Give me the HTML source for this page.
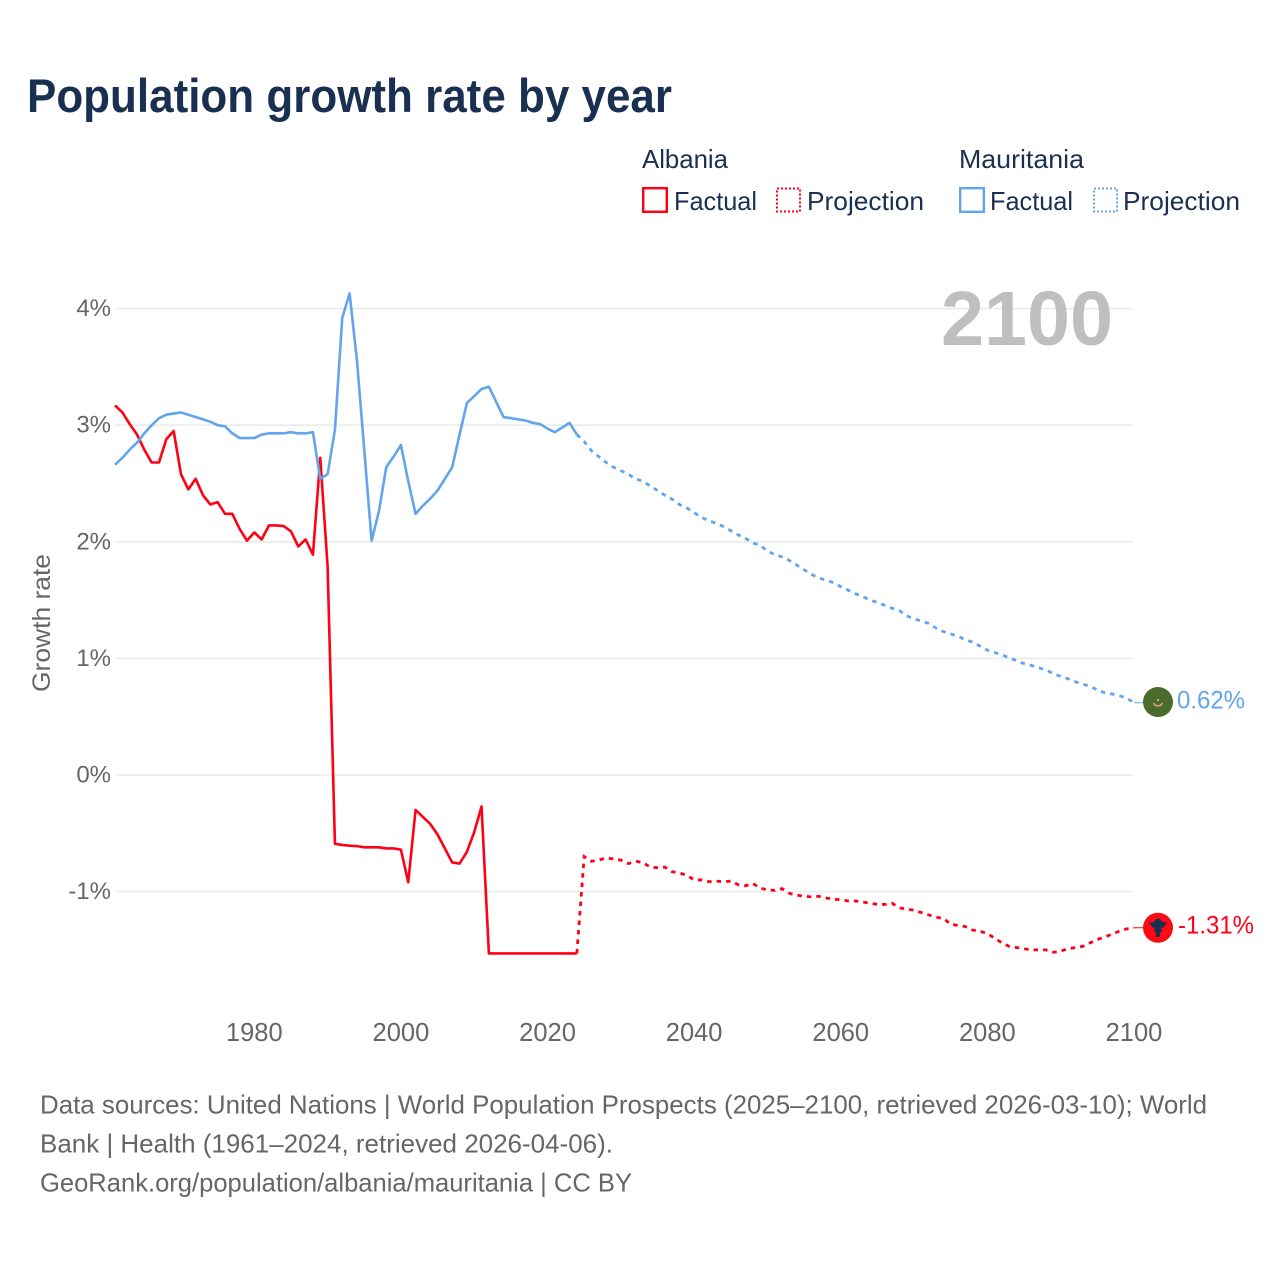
<!DOCTYPE html>
<html lang="en">
<head>
<meta charset="utf-8">
<title>Population growth rate by year</title>
<style>
  html, body { margin: 0; padding: 0; background: #ffffff; }
  svg { display: block; }
  text { font-family: "Liberation Sans", "DejaVu Sans", sans-serif; }
</style>
</head>
<body>
<svg id="chart" xmlns="http://www.w3.org/2000/svg" width="1280" height="1280" viewBox="0 0 1280 1280">
  <rect x="0" y="0" width="1280" height="1280" fill="#ffffff"/>
  <text x="27" y="112" font-size="47" font-weight="700" fill="#1a3050" textLength="645" lengthAdjust="spacingAndGlyphs">Population growth rate by year</text>

  <g>
    <text x="642" y="168" font-size="26" fill="#1a3050" textLength="86" lengthAdjust="spacingAndGlyphs">Albania</text>
    <text x="959" y="168" font-size="26" fill="#1a3050" textLength="125" lengthAdjust="spacingAndGlyphs">Mauritania</text>
    <rect x="643.2" y="188.2" width="23.6" height="23.6" fill="none" stroke="#ff0015" stroke-width="2.4"/>
    <text x="674" y="210" font-size="26" fill="#1a3050" textLength="83" lengthAdjust="spacingAndGlyphs">Factual</text>
    <rect x="777" y="188.5" width="23" height="23" fill="none" stroke="#ff0015" stroke-width="2" stroke-dasharray="2 2"/>
    <text x="807" y="210" font-size="26" fill="#1a3050" textLength="117" lengthAdjust="spacingAndGlyphs">Projection</text>
    <rect x="960.2" y="188.2" width="23.6" height="23.6" fill="none" stroke="#63a5ec" stroke-width="2.4"/>
    <text x="990" y="210" font-size="26" fill="#1a3050" textLength="83" lengthAdjust="spacingAndGlyphs">Factual</text>
    <rect x="1094" y="188.5" width="23" height="23" fill="none" stroke="#63a5ec" stroke-width="2" stroke-dasharray="2 2"/>
    <text x="1123" y="210" font-size="26" fill="#1a3050" textLength="117" lengthAdjust="spacingAndGlyphs">Projection</text>
  </g>

  <g id="grid"></g>
  <g id="y-ticks"></g>
  <g id="x-ticks"></g>

  <text transform="translate(50 623) rotate(-90)" text-anchor="middle" font-size="25" fill="#666666" textLength="138" lengthAdjust="spacingAndGlyphs">Growth rate</text>
  <text x="941" y="345" font-size="77" font-weight="700" fill="#bfbfbf" textLength="172" lengthAdjust="spacingAndGlyphs">2100</text>

  <g id="series"></g>
  <g id="markers"></g>

  <g>
    <text x="40" y="1113.5" font-size="26" fill="#666666" textLength="1167" lengthAdjust="spacingAndGlyphs">Data sources: United Nations | World Population Prospects (2025–2100, retrieved 2026-03-10); World</text>
    <text x="40" y="1152.5" font-size="26" fill="#666666" textLength="573" lengthAdjust="spacingAndGlyphs">Bank | Health (1961–2024, retrieved 2026-04-06).</text>
    <text x="40" y="1191.5" font-size="26" fill="#666666" textLength="592" lengthAdjust="spacingAndGlyphs">GeoRank.org/population/albania/mauritania | CC BY</text>
  </g>
</svg>

<script>
const factualStartYear = 1961;
const projectionStartYear = 2024;

const albaniaFactual = [
  3.17, 3.11, 3.01, 2.92, 2.79, 2.68, 2.68, 2.88, 2.95, 2.58,
  2.45, 2.54, 2.40, 2.32, 2.34, 2.24, 2.24, 2.11, 2.01, 2.08,
  2.02, 2.14, 2.14, 2.135, 2.09, 1.96, 2.02, 1.89, 2.72, 1.79,
  -0.59, -0.60, -0.606, -0.61, -0.62, -0.62, -0.62, -0.63, -0.63, -0.64,
  -0.92, -0.30, -0.36, -0.42, -0.51, -0.63, -0.75, -0.76, -0.66, -0.49,
  -0.27, -1.53, -1.53, -1.53, -1.53, -1.53, -1.53, -1.53, -1.53, -1.53,
  -1.53, -1.53, -1.53, -1.53
];

const albaniaProjection = [
  -1.53, -0.70, -0.74, -0.73, -0.71, -0.72, -0.73, -0.76, -0.74, -0.75,
  -0.79, -0.795, -0.79, -0.83, -0.84, -0.86, -0.90, -0.90, -0.915, -0.91,
  -0.915, -0.91, -0.94, -0.95, -0.93, -0.97, -0.985, -0.99, -0.975, -1.015,
  -1.03, -1.04, -1.045, -1.04, -1.055, -1.065, -1.07, -1.08, -1.08, -1.09,
  -1.10, -1.11, -1.11, -1.10, -1.14, -1.15, -1.16, -1.18, -1.20, -1.22,
  -1.23, -1.28, -1.29, -1.30, -1.33, -1.34, -1.36, -1.40, -1.44, -1.47,
  -1.48, -1.49, -1.50, -1.50, -1.50, -1.52, -1.51, -1.49, -1.48, -1.47,
  -1.44, -1.41, -1.39, -1.365, -1.34, -1.32, -1.31
];

const mauritaniaFactual = [
  2.66, 2.72, 2.79, 2.85, 2.93, 3.00, 3.06, 3.09, 3.10, 3.11,
  3.09, 3.07, 3.05, 3.03, 3.00, 2.99, 2.93, 2.89, 2.89, 2.89,
  2.92, 2.93, 2.93, 2.93, 2.94, 2.93, 2.93, 2.94, 2.54, 2.58,
  2.96, 3.92, 4.13, 3.56, 2.79, 2.01, 2.26, 2.64, 2.73, 2.83,
  2.52, 2.24, 2.31, 2.37, 2.44, 2.54, 2.64, 2.92, 3.19, 3.25,
  3.31, 3.33, 3.20, 3.07, 3.06, 3.05, 3.04, 3.02, 3.01, 2.97,
  2.94, 2.98, 3.02, 2.92
];

const mauritaniaProjection = [
  2.92, 2.86, 2.78, 2.73, 2.68, 2.64, 2.61, 2.58, 2.54, 2.52,
  2.48, 2.44, 2.40, 2.365, 2.32, 2.29, 2.25, 2.21, 2.18, 2.16,
  2.13, 2.095, 2.06, 2.03, 1.99, 1.97, 1.92, 1.89, 1.87, 1.84,
  1.80, 1.76, 1.72, 1.69, 1.67, 1.65, 1.615, 1.585, 1.555, 1.53,
  1.50, 1.48, 1.455, 1.43, 1.41, 1.365, 1.34, 1.32, 1.30, 1.26,
  1.23, 1.21, 1.19, 1.16, 1.14, 1.105, 1.07, 1.05, 1.03, 1.005,
  0.98, 0.955, 0.94, 0.92, 0.90, 0.87, 0.845, 0.825, 0.80, 0.78,
  0.76, 0.73, 0.705, 0.695, 0.68, 0.66, 0.62
];

const yTickValues = [4, 3, 2, 1, 0, -1];
const yTickLabels = ["4%", "3%", "2%", "1%", "0%", "-1%"];
const xTickYears = [1980, 2000, 2020, 2040, 2060, 2080, 2100];
const albaniaEndLabel = "-1.31%";
const mauritaniaEndLabel = "0.62%";

const NS = "http://www.w3.org/2000/svg";
const RED = "#ff0015";
const BLUE = "#63a5ec";
const PLOT_LEFT = 115;
const PLOT_RIGHT = 1133.5;
const MARKER_X = 1158;

function xScale(year) {
  return 115 + (year - 1961) * (1134 - 115) / 139;
}
function yScale(value) {
  return 775 - 116.6 * value;
}
function make(tag, attrs, parent) {
  const el = document.createElementNS(NS, tag);
  Object.keys(attrs).forEach(function (k) { el.setAttribute(k, attrs[k]); });
  parent.appendChild(el);
  return el;
}
function linePath(values, startYear) {
  return values.map(function (v, i) {
    return (i ? "L" : "M") + xScale(startYear + i).toFixed(2) + " " + yScale(v).toFixed(2);
  }).join(" ");
}

const gridGroup = document.getElementById("grid");
const yTickGroup = document.getElementById("y-ticks");
yTickValues.forEach(function (v, i) {
  const line = make("line", { x1: PLOT_LEFT, x2: PLOT_RIGHT, y1: yScale(v), y2: yScale(v), stroke: "#ebebeb", "stroke-width": 1.6 }, gridGroup);
  
  
  const label = make("text", { x: 111, y: yScale(v) + 7.5, "text-anchor": "end", "font-size": 24, fill: "#666666" }, yTickGroup);
  
  
  label.textContent = yTickLabels[i];
});

const xTickGroup = document.getElementById("x-ticks");
xTickYears.forEach(function (year) {
  const label = make("text", { x: xScale(year), y: 1041, "text-anchor": "middle", "font-size": 25.5, fill: "#666666" }, xTickGroup);
  
  
  label.textContent = String(year);
});

const seriesGroup = document.getElementById("series");

const albaniaSolid = make("path", { d: linePath(albaniaFactual, factualStartYear), fill: "none", stroke: RED, "stroke-width": 2.6, "stroke-linejoin": "round" }, seriesGroup);



const mauritaniaSolid = make("path", { d: linePath(mauritaniaFactual, factualStartYear), fill: "none", stroke: BLUE, "stroke-width": 2.6, "stroke-linejoin": "round" }, seriesGroup);



const albaniaDashed = make("path", { d: linePath(albaniaProjection, projectionStartYear), fill: "none", stroke: RED, "stroke-width": 2.8, "stroke-dasharray": "4.5 5" }, seriesGroup);



const mauritaniaDashed = make("path", { d: linePath(mauritaniaProjection, projectionStartYear), fill: "none", stroke: BLUE, "stroke-width": 2.8, "stroke-dasharray": "4.5 5" }, seriesGroup);



const markerGroup = document.getElementById("markers");
const lastYear = projectionStartYear + albaniaProjection.length - 1;
const albaniaY = yScale(albaniaProjection[albaniaProjection.length - 1]);
const mauritaniaY = yScale(mauritaniaProjection[mauritaniaProjection.length - 1]);

const albaniaConnector = make("line", { x1: xScale(lastYear), x2: MARKER_X, y1: albaniaY, y2: albaniaY, stroke: RED, "stroke-width": 1 }, markerGroup);



const mauritaniaConnector = make("line", { x1: xScale(lastYear), x2: MARKER_X, y1: mauritaniaY, y2: mauritaniaY, stroke: BLUE, "stroke-width": 1 }, markerGroup);



const mauritaniaFlag = make("g", { transform: "translate(" + MARKER_X + " " + (mauritaniaY - 0.7) + ")" }, markerGroup);


make("circle", { r: 15, fill: "#4b6b2d" }, mauritaniaFlag);
make("path", { d: "M-4.5 1 A5 5 0 0 0 4.5 1", fill: "none", stroke: "#e8a090", "stroke-width": 1.5 }, mauritaniaFlag);
make("circle", { cx: 0, cy: -2, r: 1.1, fill: "#d8c860" }, mauritaniaFlag);

const albaniaFlag = make("g", { transform: "translate(" + MARKER_X + " " + albaniaY + ")" }, markerGroup);


make("circle", { r: 15, fill: "#ff0a14" }, albaniaFlag);
make("path", { d: "M-9 -5 L-4 -6 L-2 -9 L2 -9 L4 -6 L9 -5 L6 -1 L3 1 L4 4 L2 5 L2 9 L-2 9 L-2 5 L-4 4 L-3 1 L-6 -1 Z", fill: "#1a3050" }, albaniaFlag);

const mauritaniaValue = make("text", { x: 1177, y: mauritaniaY + 6, "font-size": 25, fill: BLUE, textLength: 68, lengthAdjust: "spacingAndGlyphs" }, markerGroup);


mauritaniaValue.textContent = mauritaniaEndLabel;

const albaniaValue = make("text", { x: 1178, y: albaniaY + 6, "font-size": 25, fill: RED, textLength: 76, lengthAdjust: "spacingAndGlyphs" }, markerGroup);


albaniaValue.textContent = albaniaEndLabel;
</script>
</body>
</html>
